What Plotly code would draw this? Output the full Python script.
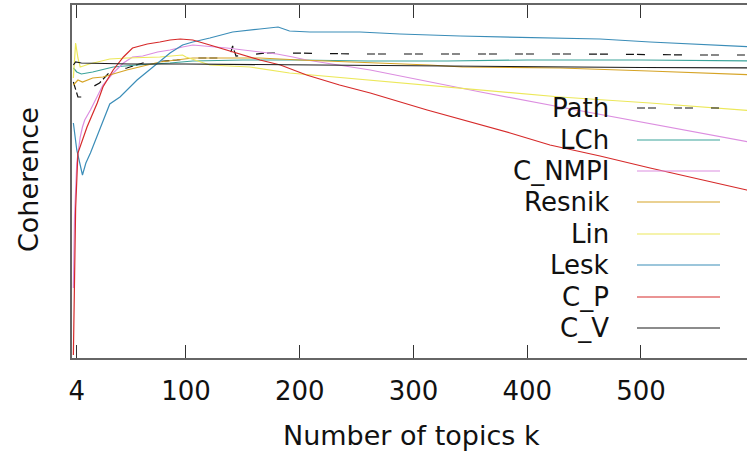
import plotly.graph_objects as go

# ---------------- data (coherence in arbitrary normalized units) ----------------
path_k = [1, 5, 9, 13, 24, 33, 48, 62, 92, 106, 127, 138, 141, 144, 155, 170, 191, 250, 350, 450, 550, 600]
path_v = [276, 261, 261, 268, 275, 286, 290, 295, 298, 300, 300, 300, 312, 302, 303, 305, 305, 304, 304, 304, 303, 303]

lch_k = [1, 4, 8, 18, 36, 57, 86, 106, 150, 200, 260, 330, 400, 500, 600]
lch_v = [290, 286, 284, 286, 291, 293, 295, 297, 298, 298, 297, 297, 298, 298, 297]

nmpi_k = [1, 2, 4, 7, 9, 11, 16, 22, 27, 36, 45, 53, 62, 75, 86, 97, 106, 136, 150, 165, 180, 194, 206, 262, 359, 429, 508, 593, 600]
nmpi_v = [70, 140, 195, 221, 231, 238, 248, 261, 273, 285, 295, 301, 302, 306, 308, 311, 313, 310, 308, 306, 304, 301, 298, 288, 266, 251, 234, 216, 215]

resnik_k = [1, 5, 9, 18, 27, 48, 77, 106, 135, 165, 200, 252, 314, 343, 429, 507, 593, 600]
resnik_v = [273, 278, 276, 280, 281, 288, 296, 300, 300, 300, 298, 296, 293, 291, 290, 287, 283, 283]

lin_k = [1, 3, 5, 7, 15, 33, 48, 77, 97, 100, 121, 156, 191, 262, 341, 429, 508, 593, 600]
lin_v = [280, 315, 300, 291, 294, 299, 300, 301, 303, 301, 293, 291, 285, 278, 270, 261, 255, 248, 247]

lesk_k = [1, 4, 9, 12, 16, 24, 33, 42, 57, 71, 86, 97, 106, 121, 141, 165, 181, 191, 209, 253, 288, 341, 394, 429, 464, 508, 552, 593, 600]
lesk_v = [235, 208, 183, 195, 205, 228, 254, 261, 278, 291, 305, 313, 316, 320, 326, 329, 331, 327, 326, 326, 324, 322, 321, 320, 319, 316, 314, 312, 311]

cp_k = [1, 2, 3, 5, 9, 13, 22, 27, 36, 45, 53, 66, 77, 86, 95, 106, 121, 136, 150, 165, 183, 206, 235, 262, 312, 385, 420, 464, 508, 552, 593, 600]
cp_v = [3, 110, 150, 205, 218, 231, 255, 271, 288, 301, 310, 314, 316, 318, 319, 318, 313, 308, 303, 298, 293, 283, 273, 265, 248, 225, 213, 202, 190, 179, 168, 166]

cv_k = [1, 3, 8, 50, 100, 200, 300, 400, 500, 600]
cv_v = [293, 296, 295, 294, 294, 293, 292, 291, 290.5, 290]

x_ticks = [4, 100, 200, 300, 400, 500]

series = [
    ("Path", path_k, path_v, "#111111", "8px,3px,8px,18px"),
    ("LCh", lch_k, lch_v, "#3aa39a", "solid"),
    ("C_NMPI", nmpi_k, nmpi_v, "#dc8ee0", "solid"),
    ("Resnik", resnik_k, resnik_v, "#d6a426", "solid"),
    ("Lin", lin_k, lin_v, "#ece85a", "solid"),
    ("Lesk", lesk_k, lesk_v, "#3b8db8", "solid"),
    ("C_P", cp_k, cp_v, "#d62a2a", "solid"),
    ("C_V", cv_k, cv_v, "#1a1a1a", "solid"),
]

# ---------------- layout geometry ----------------
W, H = 747, 455
ML, MR, MT, MB = 72, 0, 5, 97
PW, PH = W - ML - MR, H - MT - MB
Y_MAX = 353
FONT = "DejaVu Sans"


def px_to_paper_x(px):
    return (px - ML) / PW


def py_to_paper_y(py):
    return (H - MB - py) / PH


fig = go.Figure()
for name, k, v, color, dash in series:
    fig.add_trace(go.Scatter(x=k, y=v, mode="lines", name=name,
                             line=dict(color=color, width=1.2, dash=dash),
                             showlegend=False, hoverinfo="skip"))

# gnuplot-style key: right-aligned labels with line samples on the right
legend_rows = [108, 140, 171, 202, 234, 265, 297, 328]
annotations = []
shapes = []
for (name, k, v, color, dash), row in zip(series, legend_rows):
    annotations.append(dict(x=px_to_paper_x(611), y=py_to_paper_y(row), xref="paper", yref="paper",
                            text=name, showarrow=False, xanchor="right", yanchor="middle",
                            font=dict(family=FONT, size=26, color="#111111")))
    shapes.append(dict(type="line", xref="paper", yref="paper",
                       x0=px_to_paper_x(637), x1=px_to_paper_x(720),
                       y0=py_to_paper_y(row), y1=py_to_paper_y(row),
                       line=dict(color=color, width=1.2, dash=dash)))

annotations.append(dict(x=px_to_paper_x(412), y=py_to_paper_y(435), xref="paper", yref="paper",
                        text="Number of topics k", showarrow=False, xanchor="center", yanchor="middle",
                        font=dict(family=FONT, size=27, color="#111111")))
annotations.append(dict(x=px_to_paper_x(28), y=py_to_paper_y(180), xref="paper", yref="paper",
                        text="Coherence", showarrow=False, textangle=-90, xanchor="center", yanchor="middle",
                        font=dict(family=FONT, size=27, color="#111111")))

fig.update_layout(
    width=W, height=H,
    margin=dict(l=ML, r=MR, t=MT, b=MB),
    paper_bgcolor="white", plot_bgcolor="white",
    font=dict(family=FONT, size=25, color="#111111"),
    annotations=annotations, shapes=shapes,
    xaxis=dict(range=[-0.2, 593.2], tickvals=x_ticks, ticktext=[str(t) for t in x_ticks],
               ticks="inside", ticklen=13, tickwidth=1, tickcolor="#333333",
               showline=True, linecolor="#666666", linewidth=2, mirror="ticks",
               showgrid=False, zeroline=False, ticklabelstandoff=9,
               tickfont=dict(family=FONT, size=26, color="#111111")),
    yaxis=dict(range=[0, Y_MAX], showticklabels=False, ticks="",
               showline=True, linecolor="#666666", linewidth=2, mirror=False,
               showgrid=False, zeroline=False),
)

fig.write_html("out.html", config={"displayModeBar": False},
               post_script="document.body.style.margin='0';document.body.style.overflow='hidden';")
